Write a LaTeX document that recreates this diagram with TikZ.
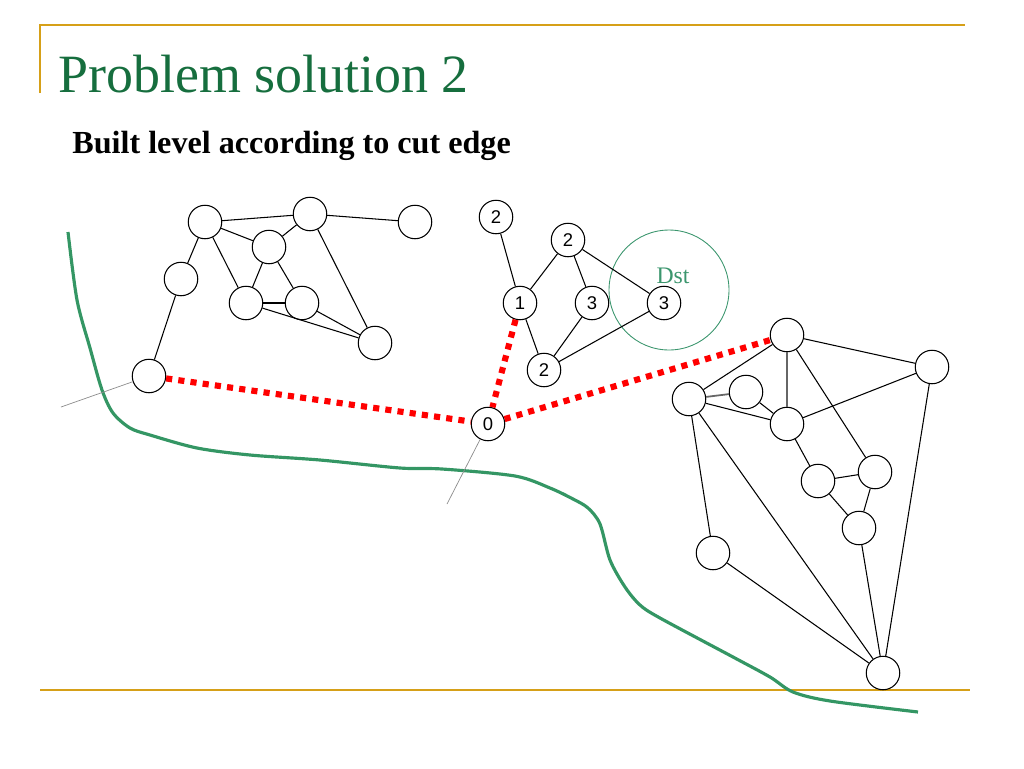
\documentclass[tikz,border=0pt]{standalone}
\usepackage{fontspec}
\setmainfont{Liberation Serif}
\newfontfamily\labelfont{Liberation Sans}
\usepackage{tikz}
\usetikzlibrary{positioning}
\definecolor{slidegold}{RGB}{214,160,24}
\definecolor{titlegreen}{RGB}{22,110,62}
\definecolor{cutgreen}{RGB}{52,150,100}
\definecolor{dstgreen}{RGB}{60,150,110}
\tikzset{
  vertex/.style={circle, draw=black, line width=0.6pt, minimum size=0.67cm, inner sep=0pt, fill=white, font=\labelfont\fontsize{10.5}{11}\selectfont},
  edge/.style={line width=0.6pt},
  grayedge/.style={line width=1pt, draw=black!60},
  cutedge/.style={red, line width=3.5pt, dash pattern=on 3.5pt off 3.5pt},
  stubline/.style={line width=0.4pt, draw=black!45},
  frameline/.style={slidegold, line width=1.2pt}
}

\begin{document}
\begin{tikzpicture}[x=0.02cm, y=-0.02cm,
        title/.style={anchor=base west, inner sep=0pt, text=titlegreen, font=\fontsize{30.7}{34}\selectfont},
        subtitle/.style={anchor=base west, inner sep=0pt, font=\bfseries\fontsize{18.3}{21}\selectfont}]
    \useasboundingbox (0,0) rectangle (1024,768);

    % Marco de la diapositiva
    \draw [frameline] (40,93) -- (40,25) -- (965,25);
    \draw [frameline] (40,690) -- (970,690);
    \node (title) [title] at (58,92) {Problem solution 2};
    \node (subtitle) [subtitle] at (72,153) {Built level according to cut edge};

    % Curva de corte
    \draw [cutgreen, line width=1.8pt, line join=round] plot[smooth, tension=0.5] coordinates {
        (68,232) (77,300) (90,348) (102,390) (113,413) (130,428) (150,435) (197,448)
        (250,455) (320,460) (400,468) (442,469) (515,476) (550,488) (573,499)
        (588,508) (600,524) (610,560) (625,587) (640,605) (660,618) (733,657)
        (770,677) (793,692) (830,701) (918,712)};

    % Grafo izquierdo
    \node (l1) [vertex] at (205,222) {};
    \node (l2) [vertex] at (310,214) {};
    \node (l3) [vertex] at (415,222) {};
    \node (l4) [vertex] at (269,247) {};
    \node (l5) [vertex] at (181,279) {};
    \node (l6) [vertex] at (246,303) {};
    \node (l7) [vertex] at (302,303) {};
    \node (l8) [vertex] at (375,343) {};
    \node (l9) [vertex] at (149,376) {};
    \draw [edge] (l1) -- (l2);
    \draw [edge] (l2) -- (l3);
    \draw [edge] (l1) -- (l4);
    \draw [edge] (l4) -- (l2);
    \draw [edge] (l1) -- (l5);
    \draw [edge] (l1) -- (l6);
    \draw [edge] (l4) -- (l6);
    \draw [edge] (l4) -- (l7);
    \draw [edge] (l6) -- (l7);
    \draw [edge] (l6) -- (l8);
    \draw [edge] (l7) -- (l8);
    \draw [edge] (l2) -- (l8);
    \draw [edge] (l5) -- (l9);
    \coordinate (lstub) at (61,407);
    \draw [stubline] (l9) -- (lstub);

    % Grafo central con niveles
    \node (dstzone) [circle, draw=dstgreen, line width=0.5pt, minimum size=2.4cm] at (669,290) {};
    \node (dstlabel) [text=dstgreen, inner sep=0pt, font=\fontsize{13.5}{15}\selectfont] at (673,276) {Dst};
    \node (m2a) [vertex] at (496,217) {2};
    \node (m2b) [vertex] at (568,240) {2};
    \node (m1) [vertex] at (520,303) {1};
    \node (m3a) [vertex] at (592,303) {3};
    \node (m3b) [vertex] at (664,303) {3};
    \node (m2c) [vertex] at (544,370) {2};
    \node (m0) [vertex] at (488,424) {0};
    \draw [edge] (m2a) -- (m1);
    \draw [edge] (m1) -- (m2b);
    \draw [edge] (m2b) -- (m3a);
    \draw [edge] (m2b) -- (m3b);
    \draw [edge] (m1) -- (m2c);
    \draw [edge] (m3a) -- (m2c);
    \draw [edge] (m3b) -- (m2c);
    \coordinate (mstub) at (447,504);
    \draw [stubline] (m0) -- (mstub);

    % Grafo derecho
    \node (r1) [vertex] at (787,335) {};
    \node (r2) [vertex] at (932,367) {};
    \node (r3) [vertex] at (689,399) {};
    \node (r4) [vertex] at (746,392) {};
    \node (r5) [vertex] at (787,424) {};
    \node (r6) [vertex] at (818,481) {};
    \node (r7) [vertex] at (875,472) {};
    \node (r8) [vertex] at (859,528) {};
    \node (r9) [vertex] at (713,553) {};
    \node (r10) [vertex] at (883,673) {};
    \draw [edge] (r1) -- (r2);
    \draw [edge] (r1) -- (r3);
    \draw [grayedge] (r1) -- (r5);
    \draw [edge] (r1) -- (r7);
    \draw [grayedge] (r3) -- (r4);
    \draw [edge] (r4) -- (r5);
    \draw [edge] (r3) -- (r5);
    \draw [edge] (r5) -- (r2);
    \draw [edge] (r5) -- (r6);
    \draw [edge] (r6) -- (r7);
    \draw [edge] (r6) -- (r8);
    \draw [edge] (r7) -- (r8);
    \draw [edge] (r3) -- (r9);
    \draw [edge] (r3) -- (r10);
    \draw [edge] (r9) -- (r10);
    \draw [edge] (r8) -- (r10);
    \draw [edge] (r2) -- (r10);

    % Aristas de corte
    \draw [cutedge] (l9) -- (m0);
    \draw [cutedge] (m1) -- (m0);
    \draw [cutedge] (m0) -- (r1);

\end{tikzpicture}
\end{document}
